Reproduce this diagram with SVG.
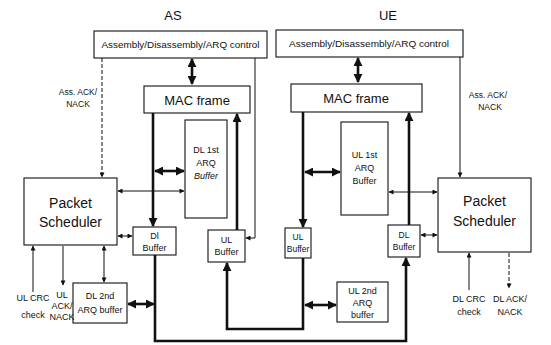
<svg xmlns="http://www.w3.org/2000/svg" width="551" height="345" viewBox="0 0 551 345">
<defs>
<style>
.box{fill:#fff;stroke:#111;stroke-width:1.1}
.t{font-family:"Liberation Sans",Arial,sans-serif;fill:#111;text-anchor:middle}
.thick{fill:none;stroke:#111;stroke-width:2.6}
.thin{fill:none;stroke:#111;stroke-width:1}
.dash{stroke-dasharray:4 2}
</style>
<marker id="ta" viewBox="0 0 10 10" refX="9" refY="5" markerWidth="9" markerHeight="9" markerUnits="userSpaceOnUse" orient="auto-start-reverse"><path d="M0,0 L10,5 L0,10 z" fill="#111"/></marker>
<marker id="sa" viewBox="0 0 10 10" refX="9" refY="5" markerWidth="6" markerHeight="5" markerUnits="userSpaceOnUse" orient="auto-start-reverse"><path d="M0,0 L10,5 L0,10 z" fill="#111"/></marker>
</defs>
<rect width="551" height="345" fill="#fff"/>
<text class="t" x="173" y="20" font-size="13">AS</text>
<text class="t" x="388" y="20" font-size="13">UE</text>

<g id="connectors">
<path class="thick" d="M192,59 V84" marker-start="url(#ta)" marker-end="url(#ta)"/>
<path class="thick" d="M358,58 V82" marker-start="url(#ta)" marker-end="url(#ta)"/>
<path class="thick" d="M153,113 V226" marker-end="url(#ta)"/>
<path class="thick" d="M237,230 V114" marker-end="url(#ta)"/>
<path class="thick" d="M155,171 H184" marker-start="url(#ta)" marker-end="url(#ta)"/>
<path class="thick" d="M155,255 V341 H406 V258" marker-end="url(#ta)"/>
<path class="thick" d="M128,304 H154" marker-start="url(#ta)" marker-end="url(#ta)"/>
<path class="thick" d="M303,258 V329 H227 V263" marker-end="url(#ta)"/>
<path class="thick" d="M305,305 H336" marker-start="url(#ta)" marker-end="url(#ta)"/>
<path class="thick" d="M303,112 V227" marker-end="url(#ta)"/>
<path class="thick" d="M305,172 H340" marker-start="url(#ta)" marker-end="url(#ta)"/>
<path class="thick" d="M409,225 V113" marker-end="url(#ta)"/>

<path class="thin dash" d="M102,58 V177" marker-end="url(#sa)"/>
<path class="thin" d="M255,58 V238 H246" marker-end="url(#sa)"/>
<path class="thin" d="M118,191 H184" marker-start="url(#sa)" marker-end="url(#sa)"/>
<path class="thin" d="M118,236 H132" marker-start="url(#sa)" marker-end="url(#sa)"/>
<path class="thin" d="M33,292 V246" marker-end="url(#sa)"/>
<path class="thin" d="M63,246 V285" marker-end="url(#sa)"/>
<path class="thin" d="M104,246 V282" marker-start="url(#sa)" marker-end="url(#sa)"/>
<path class="thin" d="M389,192 H437" marker-start="url(#sa)" marker-end="url(#sa)"/>
<path class="thin" d="M421,235 H437" marker-start="url(#sa)" marker-end="url(#sa)"/>
<path class="thin" d="M460,57 V177" marker-end="url(#sa)"/>
<path class="thin" d="M469,290 V253" marker-end="url(#sa)"/>
<path class="thin dash" d="M509,253 V288" marker-end="url(#sa)"/>
</g>

<g id="asm-as"><rect class="box" x="94" y="31" width="173" height="27"/><text class="t" x="180.5" y="48" font-size="9" textLength="158" lengthAdjust="spacingAndGlyphs">Assembly/Disassembly/ARQ control</text></g>
<g id="asm-ue"><rect class="box" x="276" y="30" width="187" height="27"/><text class="t" x="369" y="47" font-size="9" textLength="160" lengthAdjust="spacingAndGlyphs">Assembly/Disassembly/ARQ control</text></g>
<g id="mac-as"><rect class="box" x="144" y="86" width="106" height="27"/><text class="t" x="197" y="105" font-size="13">MAC frame</text></g>
<g id="mac-ue"><rect class="box" x="291" y="84" width="131" height="28"/><text class="t" x="356" y="103" font-size="13">MAC frame</text></g>
<g id="dl1arq"><rect class="box" x="185" y="120" width="42" height="98"/><text class="t" x="206" y="153" font-size="9">DL 1st</text><text class="t" x="206" y="166" font-size="9">ARQ</text><text class="t" x="206" y="179" font-size="9" font-style="italic">Buffer</text></g>
<g id="ul1arq"><rect class="box" x="341" y="122" width="47" height="93"/><text class="t" x="364.5" y="158" font-size="9">UL 1st</text><text class="t" x="364.5" y="171" font-size="9">ARQ</text><text class="t" x="364.5" y="184" font-size="9">Buffer</text></g>
<g id="ps-as"><rect class="box" x="24" y="178" width="93" height="67"/><text class="t" x="70.5" y="208" font-size="14">Packet</text><text class="t" x="70.5" y="227" font-size="14">Scheduler</text></g>
<g id="ps-ue"><rect class="box" x="438" y="178" width="93" height="74"/><text class="t" x="484.5" y="206" font-size="14">Packet</text><text class="t" x="484.5" y="226" font-size="14">Scheduler</text></g>
<g id="dl-buf-as"><rect class="box" x="133" y="227" width="43" height="28"/><text class="t" x="154.5" y="239" font-size="9">Dl</text><text class="t" x="154.5" y="251" font-size="9">Buffer</text></g>
<g id="ul-buf-as"><rect class="box" x="208" y="230" width="37" height="32"/><text class="t" x="226.5" y="243" font-size="9">UL</text><text class="t" x="226.5" y="255" font-size="9">Buffer</text></g>
<g id="ul-buf-ue"><rect class="box" x="285" y="228" width="26" height="30"/><text class="t" x="298" y="240" font-size="8.5">UL</text><text class="t" x="298" y="252" font-size="8.5">Buffer</text></g>
<g id="dl-buf-ue"><rect class="box" x="388" y="225" width="32" height="32"/><text class="t" x="404" y="238" font-size="8.5">DL</text><text class="t" x="404" y="250" font-size="8.5">Buffer</text></g>
<g id="dl2arq"><rect class="box" x="73" y="283" width="54" height="40"/><text class="t" x="100" y="299" font-size="9">DL 2nd</text><text class="t" x="100" y="313" font-size="9">ARQ buffer</text></g>
<g id="ul2arq"><rect class="box" x="337" y="282" width="51" height="40"/><text class="t" x="362.5" y="294" font-size="9">UL 2nd</text><text class="t" x="362.5" y="306" font-size="9">ARQ</text><text class="t" x="362.5" y="318" font-size="9">buffer</text></g>

<g id="labels">
<text class="t" x="78" y="95" font-size="8.5">Ass. ACK/</text>
<text class="t" x="78" y="107" font-size="8.5">NACK</text>
<text class="t" x="488" y="98" font-size="8.5">Ass. ACK/</text>
<text class="t" x="490" y="110" font-size="8.5">NACK</text>
<text class="t" x="33" y="301" font-size="9">UL CRC</text>
<text class="t" x="33" y="318" font-size="9">check</text>
<text class="t" x="62" y="298" font-size="9">UL</text>
<text class="t" x="62" y="309" font-size="9">ACK/</text>
<text class="t" x="62" y="320" font-size="9">NACK</text>
<text class="t" x="469" y="302" font-size="9">DL CRC</text>
<text class="t" x="469" y="315" font-size="9">check</text>
<text class="t" x="510" y="302" font-size="9">DL ACK/</text>
<text class="t" x="510" y="315" font-size="9">NACK</text>
</g>
</svg>
